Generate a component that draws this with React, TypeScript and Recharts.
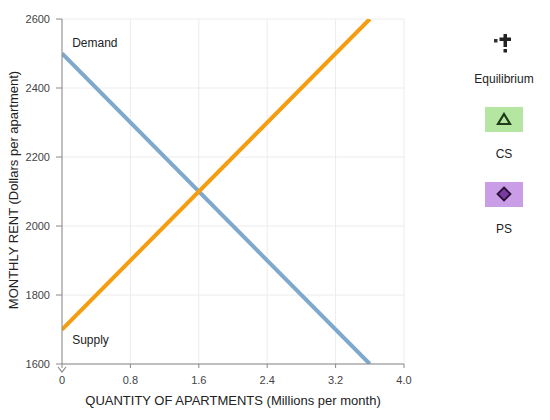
import React from "react";
import {
  ComposedChart,
  Line,
  XAxis,
  YAxis,
  CartesianGrid,
  ReferenceDot,
} from "recharts";

const quantityTicks = [0, 0.8, 1.6, 2.4, 3.2, 4.0];
const rentTicks = [1600, 1800, 2000, 2200, 2400, 2600];

const demand = [
  { q: 0, p: 2500 },
  { q: 3.6, p: 1600 },
];
const supply = [
  { q: 0, p: 1700 },
  { q: 3.6, p: 2600 },
];

const legendItems = ["Equilibrium", "CS", "PS"];

const FONT = "'Liberation Sans', Arial, sans-serif";

function fmtQ(v: number): string {
  return v === 0 ? "0" : v.toFixed(1);
}

function EquilibriumIcon() {
  return (
    <svg width={22} height={22} viewBox="0 0 22 22">
      <rect x={1} y={6} width={3.5} height={3.5} fill="#333" />
      <rect x={10.5} y={1} width={3.5} height={13} fill="#222" />
      <rect x={6.5} y={4.5} width={11.5} height={3.5} fill="#222" />
      <rect x={10.5} y={16} width={3.5} height={3.5} fill="#222" />
    </svg>
  );
}

function CSIcon() {
  return (
    <div style={{ width: 38, height: 25, background: "#b4e5a1", display: "flex", alignItems: "center", justifyContent: "center" }}>
      <svg width={16} height={14} viewBox="0 0 16 14">
        <polygon points="8,2 14,12 2,12" fill="none" stroke="#1e3a1a" strokeWidth={2.2} />
      </svg>
    </div>
  );
}

function PSIcon() {
  return (
    <div style={{ width: 38, height: 25, background: "#c99ee6", display: "flex", alignItems: "center", justifyContent: "center" }}>
      <svg width={16} height={16} viewBox="0 0 16 16">
        <polygon points="8,1.5 14.5,8 8,14.5 1.5,8" fill="#7a3aa0" stroke="#2a1035" strokeWidth={1.8} />
      </svg>
    </div>
  );
}

const icons = [<EquilibriumIcon />, <CSIcon />, <PSIcon />];

export default function App() {
  return (
    <div
      style={{
        position: "absolute",
        left: 0,
        top: 0,
        width: 550,
        height: 420,
        background: "#fff",
        fontFamily: FONT,
      }}
    >
      <ComposedChart
        width={550}
        height={420}
        margin={{ top: 19, right: 146, bottom: 26, left: 0 }}
      >
        <CartesianGrid stroke="#ececec" strokeWidth={1} />
        <XAxis
          dataKey="q"
          type="number"
          domain={[0, 4]}
          ticks={quantityTicks}
          tickFormatter={fmtQ}
          height={30}
          stroke="#888"
          tickSize={4}
          tickMargin={8}
          tick={{ fontSize: 11, fill: "#444" }}
          allowDataOverflow
          label={{
            content: () => (
              <text x={233} y={405} textAnchor="middle" fontSize={13} fill="#222">
                QUANTITY OF APARTMENTS (Millions per month)
              </text>
            ),
          }}
        />
        <YAxis
          type="number"
          domain={[1600, 2600]}
          ticks={rentTicks}
          width={62}
          stroke="#888"
          tickSize={6}
          tickMargin={6}
          tick={{ fontSize: 11, fill: "#444" }}
          allowDataOverflow
          label={{
            content: () => (
              <text
                x={18}
                y={190}
                textAnchor="middle"
                fontSize={13}
                fill="#222"
                transform="rotate(-90 18 190)"
              >
                MONTHLY RENT (Dollars per apartment)
              </text>
            ),
          }}
        />
        <Line
          data={demand}
          dataKey="p"
          stroke="#7fa8cd"
          strokeWidth={4}
          dot={false}
          activeDot={false}
          isAnimationActive={false}
        />
        <Line
          data={supply}
          dataKey="p"
          stroke="#f59c0f"
          strokeWidth={4}
          dot={false}
          activeDot={false}
          isAnimationActive={false}
        />
        <ReferenceDot
          x={0.06}
          y={2530}
          r={0}
          fill="none"
          stroke="none"
          label={{ value: "Demand", position: "right", fontSize: 12, fill: "#222" }}
        />
        <ReferenceDot
          x={0.06}
          y={1670}
          r={0}
          fill="none"
          stroke="none"
          label={{ value: "Supply", position: "right", fontSize: 12, fill: "#222" }}
        />
      </ComposedChart>
      <svg
        style={{ position: "absolute", left: 56, top: 364 }}
        width={12}
        height={10}
      >
        <polyline points="2,3 6,8 10,3" fill="none" stroke="#888" strokeWidth={1.2} />
      </svg>
      {legendItems.map((name, i) => (
        <div
          key={name}
          style={{
            position: "absolute",
            left: 464,
            width: 80,
            top: 30 + i * 75,
            display: "flex",
            flexDirection: "column",
            alignItems: "center",
          }}
        >
          <div style={{ height: 28, display: "flex", alignItems: "center" }}>{icons[i]}</div>
          <div style={{ marginTop: 14, fontSize: 12, color: "#222" }}>{name}</div>
        </div>
      ))}
    </div>
  );
}
